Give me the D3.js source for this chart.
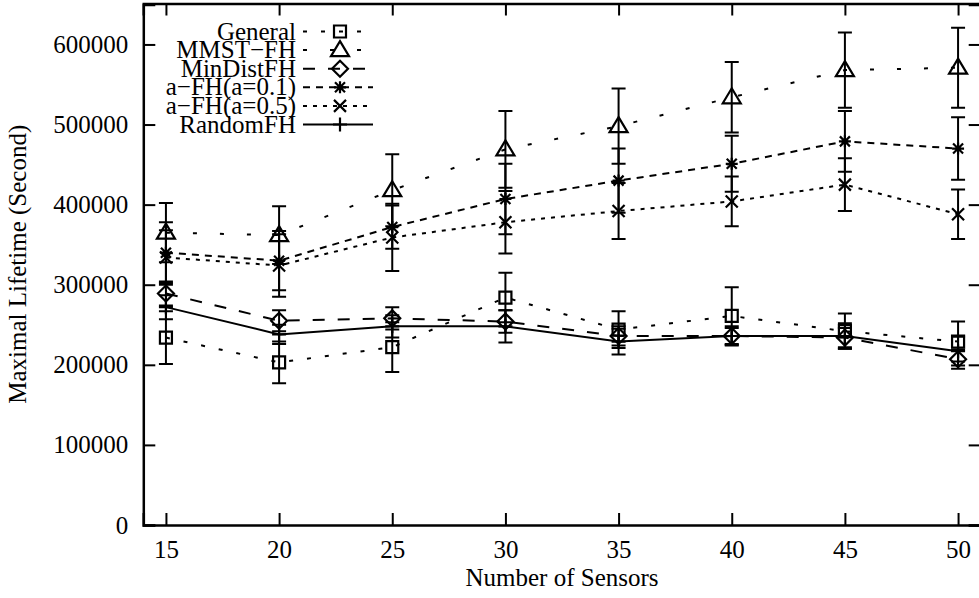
<!DOCTYPE html>
<html>
<head>
<meta charset="utf-8">
<script src="https://cdn.jsdelivr.net/npm/d3@7"></script>
<style>
    body { margin: 0; background: #fff; }
    text { font-family: "Liberation Serif", "Times New Roman", serif; }
</style>
</head>
<body>
<script>
// Données
const nbCapteurs = [15, 20, 25, 30, 35, 40, 45, 50];
const xTicks = [15, 20, 25, 30, 35, 40, 45, 50];
const yTicks = [0, 100000, 200000, 300000, 400000, 500000, 600000];
const nomsSeries = ["General", "MMST\u2212FH", "MinDistFH", "a\u2212FH(a=0.1)", "a\u2212FH(a=0.5)", "RandomFH"];

const general      = [234000, 203000, 222000, 284000, 244000, 261000, 242000, 229000];
const generalErr   = [33000, 26000, 31000, 31000, 23000, 36000, 22000, 25000];
const mmstFH       = [365000, 362000, 418000, 469000, 498000, 534000, 568000, 571000];
const mmstFHErr    = [37000, 36000, 45000, 48000, 47000, 44000, 47000, 50000];
const minDistFH    = [289000, 255000, 258000, 254000, 236000, 236000, 234000, 207000];
const minDistFHErr = [15000, 13000, 14000, 14000, 12000, 10000, 12000, 12000];
const aFH01        = [340000, 330000, 372000, 407000, 430000, 451000, 479000, 470000];
const aFH01Err     = [38000, 37000, 27000, 44000, 40000, 35000, 38000, 39000];
const aFH05        = [334000, 324000, 359000, 378000, 392000, 404000, 425000, 388000];
const aFH05Err     = [34000, 39000, 42000, 39000, 35000, 31000, 33000, 31000];
const randomFH     = [272000, 238000, 248000, 248000, 229000, 236000, 236000, 217000];
const randomFHErr  = [15000, 12000, 14000, 20000, 16000, 12000, 16000, 18000];

// Symboles façon gnuplot
const symboles = {
    carre: "M-6,-6H6V6H-6Z",
    triangle: "M0,-9L9,6L-9,6Z",
    losange: "M0,-8L8,0L0,8L-8,0Z",
    etoile: "M-6,0H6M0,-6V6M-5,-5L5,5M-5,5L5,-5",
    croix: "M-6,-6L6,6M-6,6L6,-6",
    plus: "M-7,0H7M0,-7V7"
};

const series = [
    { nom: nomsSeries[0], valeurs: general,   erreurs: generalErr,   dash: "4,14", symbole: "carre" },
    { nom: nomsSeries[1], valeurs: mmstFH,    erreurs: mmstFHErr,    dash: "4,23", symbole: "triangle" },
    { nom: nomsSeries[2], valeurs: minDistFH, erreurs: minDistFHErr, dash: "12,13", symbole: "losange" },
    { nom: nomsSeries[3], valeurs: aFH01,     erreurs: aFH01Err,     dash: "7,6", symbole: "etoile" },
    { nom: nomsSeries[4], valeurs: aFH05,     erreurs: aFH05Err,     dash: "4,6", symbole: "croix" },
    { nom: nomsSeries[5], valeurs: randomFH,  erreurs: randomFHErr,  dash: null, symbole: "plus" }
];

const width = 979;
const height = 598;
const gauche = 143.3, droite = 980.7, haut = 3.5, bas = 525;

const svg = d3.select("body").append("svg")
    .attr("width", width)
    .attr("height", height);

const x = d3.scaleLinear().domain([14, 51]).range([gauche, droite]);
const y = d3.scaleLinear().domain([0, 650000]).range([bas, 4.4]);

// Axes (graduations vers l'intérieur)
const axeX = svg.append("g")
    .attr("transform", `translate(0,${bas})`)
    .call(d3.axisBottom(x).tickValues(xTicks).tickSize(-12).tickPadding(15).tickFormat(d3.format("d")));
const axeY = svg.append("g")
    .attr("transform", `translate(${gauche},0)`)
    .call(d3.axisLeft(y).tickValues(yTicks).tickSize(-12).tickPadding(15).tickFormat(d3.format("d")));
const axeHaut = svg.append("g")
    .attr("transform", `translate(0,${haut})`)
    .call(d3.axisTop(x).tickValues(xTicks).tickSize(-12).tickFormat(""));
const axeDroit = svg.append("g")
    .attr("transform", `translate(${droite},0)`)
    .call(d3.axisRight(y).tickValues(yTicks).tickSize(-12).tickFormat(""));

[axeX, axeY, axeHaut, axeDroit].forEach(a => {
    a.select(".domain").attr("stroke", "#000").attr("stroke-width", 2.5);
    a.selectAll(".tick line").attr("stroke", "#000").attr("stroke-width", 2);
    a.selectAll(".tick text").attr("fill", "#000").attr("font-size", 25);
});

// Titres des axes
svg.append("text")
    .attr("x", (gauche + droite) / 2)
    .attr("y", 586)
    .attr("text-anchor", "middle")
    .attr("font-size", 25)
    .text("Number of Sensors");

svg.append("text")
    .attr("transform", `translate(26,${(haut + bas) / 2}) rotate(-90)`)
    .attr("text-anchor", "middle")
    .attr("font-size", 25)
    .text("Maximal Lifetime (Second)");

const ligne = d3.line()
    .x((d, i) => x(nbCapteurs[i]))
    .y(d => y(d));

const g = svg.append("g");

series.forEach(s => {
    const gs = g.append("g");

    // barres d'erreur
    s.valeurs.forEach((v, i) => {
        const cx = x(nbCapteurs[i]);
        const y1 = y(v - s.erreurs[i]);
        const y2 = y(v + s.erreurs[i]);
        gs.append("path")
            .attr("d", `M${cx},${y1}V${y2}M${cx - 7},${y1}H${cx + 7}M${cx - 7},${y2}H${cx + 7}`)
            .attr("fill", "none")
            .attr("stroke", "#000")
            .attr("stroke-width", 2);
    });

    gs.append("path")
        .datum(s.valeurs)
        .attr("d", ligne)
        .attr("fill", "none")
        .attr("stroke", "#000")
        .attr("stroke-width", 2)
        .attr("stroke-dasharray", s.dash);

    gs.selectAll(".pt")
        .data(s.valeurs)
        .join("path")
        .attr("class", "pt")
        .attr("transform", (d, i) => `translate(${x(nbCapteurs[i])},${y(d)})`)
        .attr("d", symboles[s.symbole])
        .attr("fill", "none")
        .attr("stroke", "#000")
        .attr("stroke-width", 2.2);
});

// Légende
const legende = svg.append("g");
series.forEach((s, i) => {
    const base = 39.5 + i * 18.6;
    const cy = base - 8;
    legende.append("text")
        .attr("x", 296)
        .attr("y", base)
        .attr("text-anchor", "end")
        .attr("font-size", 25)
        .text(s.nom);
    legende.append("line")
        .attr("x1", 303).attr("x2", 373)
        .attr("y1", cy).attr("y2", cy)
        .attr("stroke", "#000")
        .attr("stroke-width", 2)
        .attr("stroke-dasharray", s.dash);
    legende.append("path")
        .attr("transform", `translate(340,${cy})`)
        .attr("d", symboles[s.symbole])
        .attr("fill", "none")
        .attr("stroke", "#000")
        .attr("stroke-width", 2.2);
});
</script>
</body>
</html>
